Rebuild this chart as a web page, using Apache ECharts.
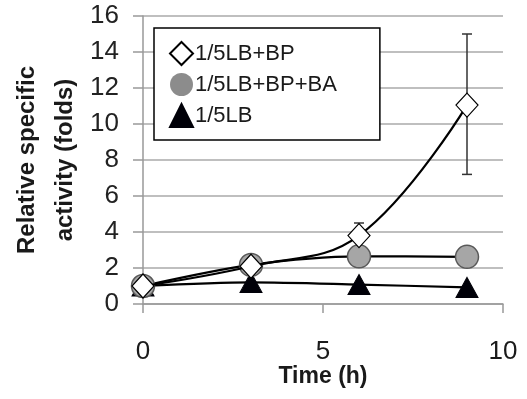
<!DOCTYPE html>
<html><head><meta charset="utf-8">
<script src="https://cdn.jsdelivr.net/npm/echarts@6/dist/echarts.min.js"></script>
<style>html,body{margin:0;padding:0;background:#fff}#c{width:527px;height:399px}</style>
</head><body><div id="c"></div>
<script>
var times = [0, 3, 6, 9];
var bpValues = [1.0, 2.1, 3.8, 11.05];
var bpbaValues = [1.0, 2.17, 2.65, 2.62];
var lbValues = [1.0, 1.2, 1.08, 0.92];
var bpErrLow = [null, null, 3.2, 7.2];
var bpErrHigh = [null, null, 4.5, 15.0];
var yTicks = [0, 2, 4, 6, 8, 10, 12, 14, 16];
var xTicks = [0, 5, 10];
var names = ['1/5LB+BP', '1/5LB+BP+BA', '1/5LB'];

function pairs(vals){ return times.map(function(t,i){return [t, vals[i]];}); }
var errData = [];
times.forEach(function(t,i){ if(bpErrLow[i]!==null) errData.push([t, bpErrLow[i], bpErrHigh[i]]); });

var chart = echarts.init(document.getElementById('c'));
var font = 'Liberation Sans, Arial, sans-serif';
chart.setOption({
  animation:false,
  backgroundColor:'#fff',
  grid:{left:143, right:24, top:16, bottom:95, outerBoundsMode:'none', containLabel:false},
  legend:{
    orient:'vertical', left:154, top:28,
    padding:[13,43,12,15],
    borderColor:'#000', borderWidth:1.5,
    backgroundColor:'#fff',
    itemWidth:23, itemHeight:23, itemGap:7,
    textStyle:{fontFamily:font, fontSize:22, color:'#1a1a1a', padding:[0,0,0,-3]},
    data:[{name:names[0], icon:'diamond'},{name:names[1], icon:'circle', itemStyle:{color:'#8c8c8c', borderWidth:0}},{name:names[2], icon:'triangle'}]
  },
  xAxis:{
    type:'value', min:0, max:10, interval:5,
    name:'Time (h)', nameLocation:'middle', nameGap:61, nameMoveOverlap:false,
    nameTextStyle:{fontFamily:font, fontSize:23, fontWeight:'bold', color:'#1a1a1a'},
    axisLine:{show:true, lineStyle:{color:'#999', width:1.5}},
    axisTick:{show:true, length:9, inside:false, lineStyle:{color:'#999', width:1.5}},
    axisLabel:{fontFamily:font, fontSize:26, color:'#1a1a1a', margin:35},
    splitLine:{show:false}
  },
  yAxis:{
    type:'value', min:0, max:16, interval:2,
    name:'Relative specific\nactivity (folds)', nameLocation:'middle', nameGap:59, nameRotate:90, nameMoveOverlap:false,
    nameTextStyle:{fontFamily:font, fontSize:24, fontWeight:'bold', color:'#1a1a1a', lineHeight:38},
    axisLine:{show:true, lineStyle:{color:'#999', width:1.5}},
    axisTick:{show:true, length:10, lineStyle:{color:'#999', width:1.5}},
    axisLabel:{fontFamily:font, fontSize:26, color:'#222', margin:24},
    splitLine:{show:true, lineStyle:{color:'#aaa', width:1.5}}
  },
  series:[
    {
      type:'custom', name:'err', z:1, silent:true,
      data:errData,
      renderItem:function(params, api){
        var x = api.value(0);
        var p1 = api.coord([x, api.value(1)]);
        var p2 = api.coord([x, api.value(2)]);
        var cw = 5;
        var st = {stroke:'#333', lineWidth:1.5};
        return {type:'group', children:[
          {type:'line', shape:{x1:p1[0], y1:p1[1], x2:p2[0], y2:p2[1]}, style:st},
          {type:'line', shape:{x1:p1[0]-cw, y1:p1[1], x2:p1[0]+cw, y2:p1[1]}, style:st},
          {type:'line', shape:{x1:p2[0]-cw, y1:p2[1], x2:p2[0]+cw, y2:p2[1]}, style:st}
        ]};
      }
    },
    {
      type:'line', name:names[2], data:pairs(lbValues), smooth:0.3, z:3,
      symbol:'triangle', symbolSize:[22,20],
      lineStyle:{color:'#000', width:2.2},
      itemStyle:{color:'#000008', borderColor:'#000008', borderWidth:1}
    },
    {
      type:'line', name:names[1], data:pairs(bpbaValues), smooth:0.3, z:4,
      symbol:'circle', symbolSize:23,
      lineStyle:{color:'#000', width:2.2},
      itemStyle:{color:'#a6a6a6', borderColor:'#595959', borderWidth:1.5}
    },
    {
      type:'line', name:names[0], data:pairs(bpValues), smooth:0.4, z:5,
      symbol:'diamond', symbolSize:[22,24],
      lineStyle:{color:'#000', width:2.2},
      itemStyle:{color:'#fff', borderColor:'#000', borderWidth:1.2}
    }
  ]
});
</script></body></html>
